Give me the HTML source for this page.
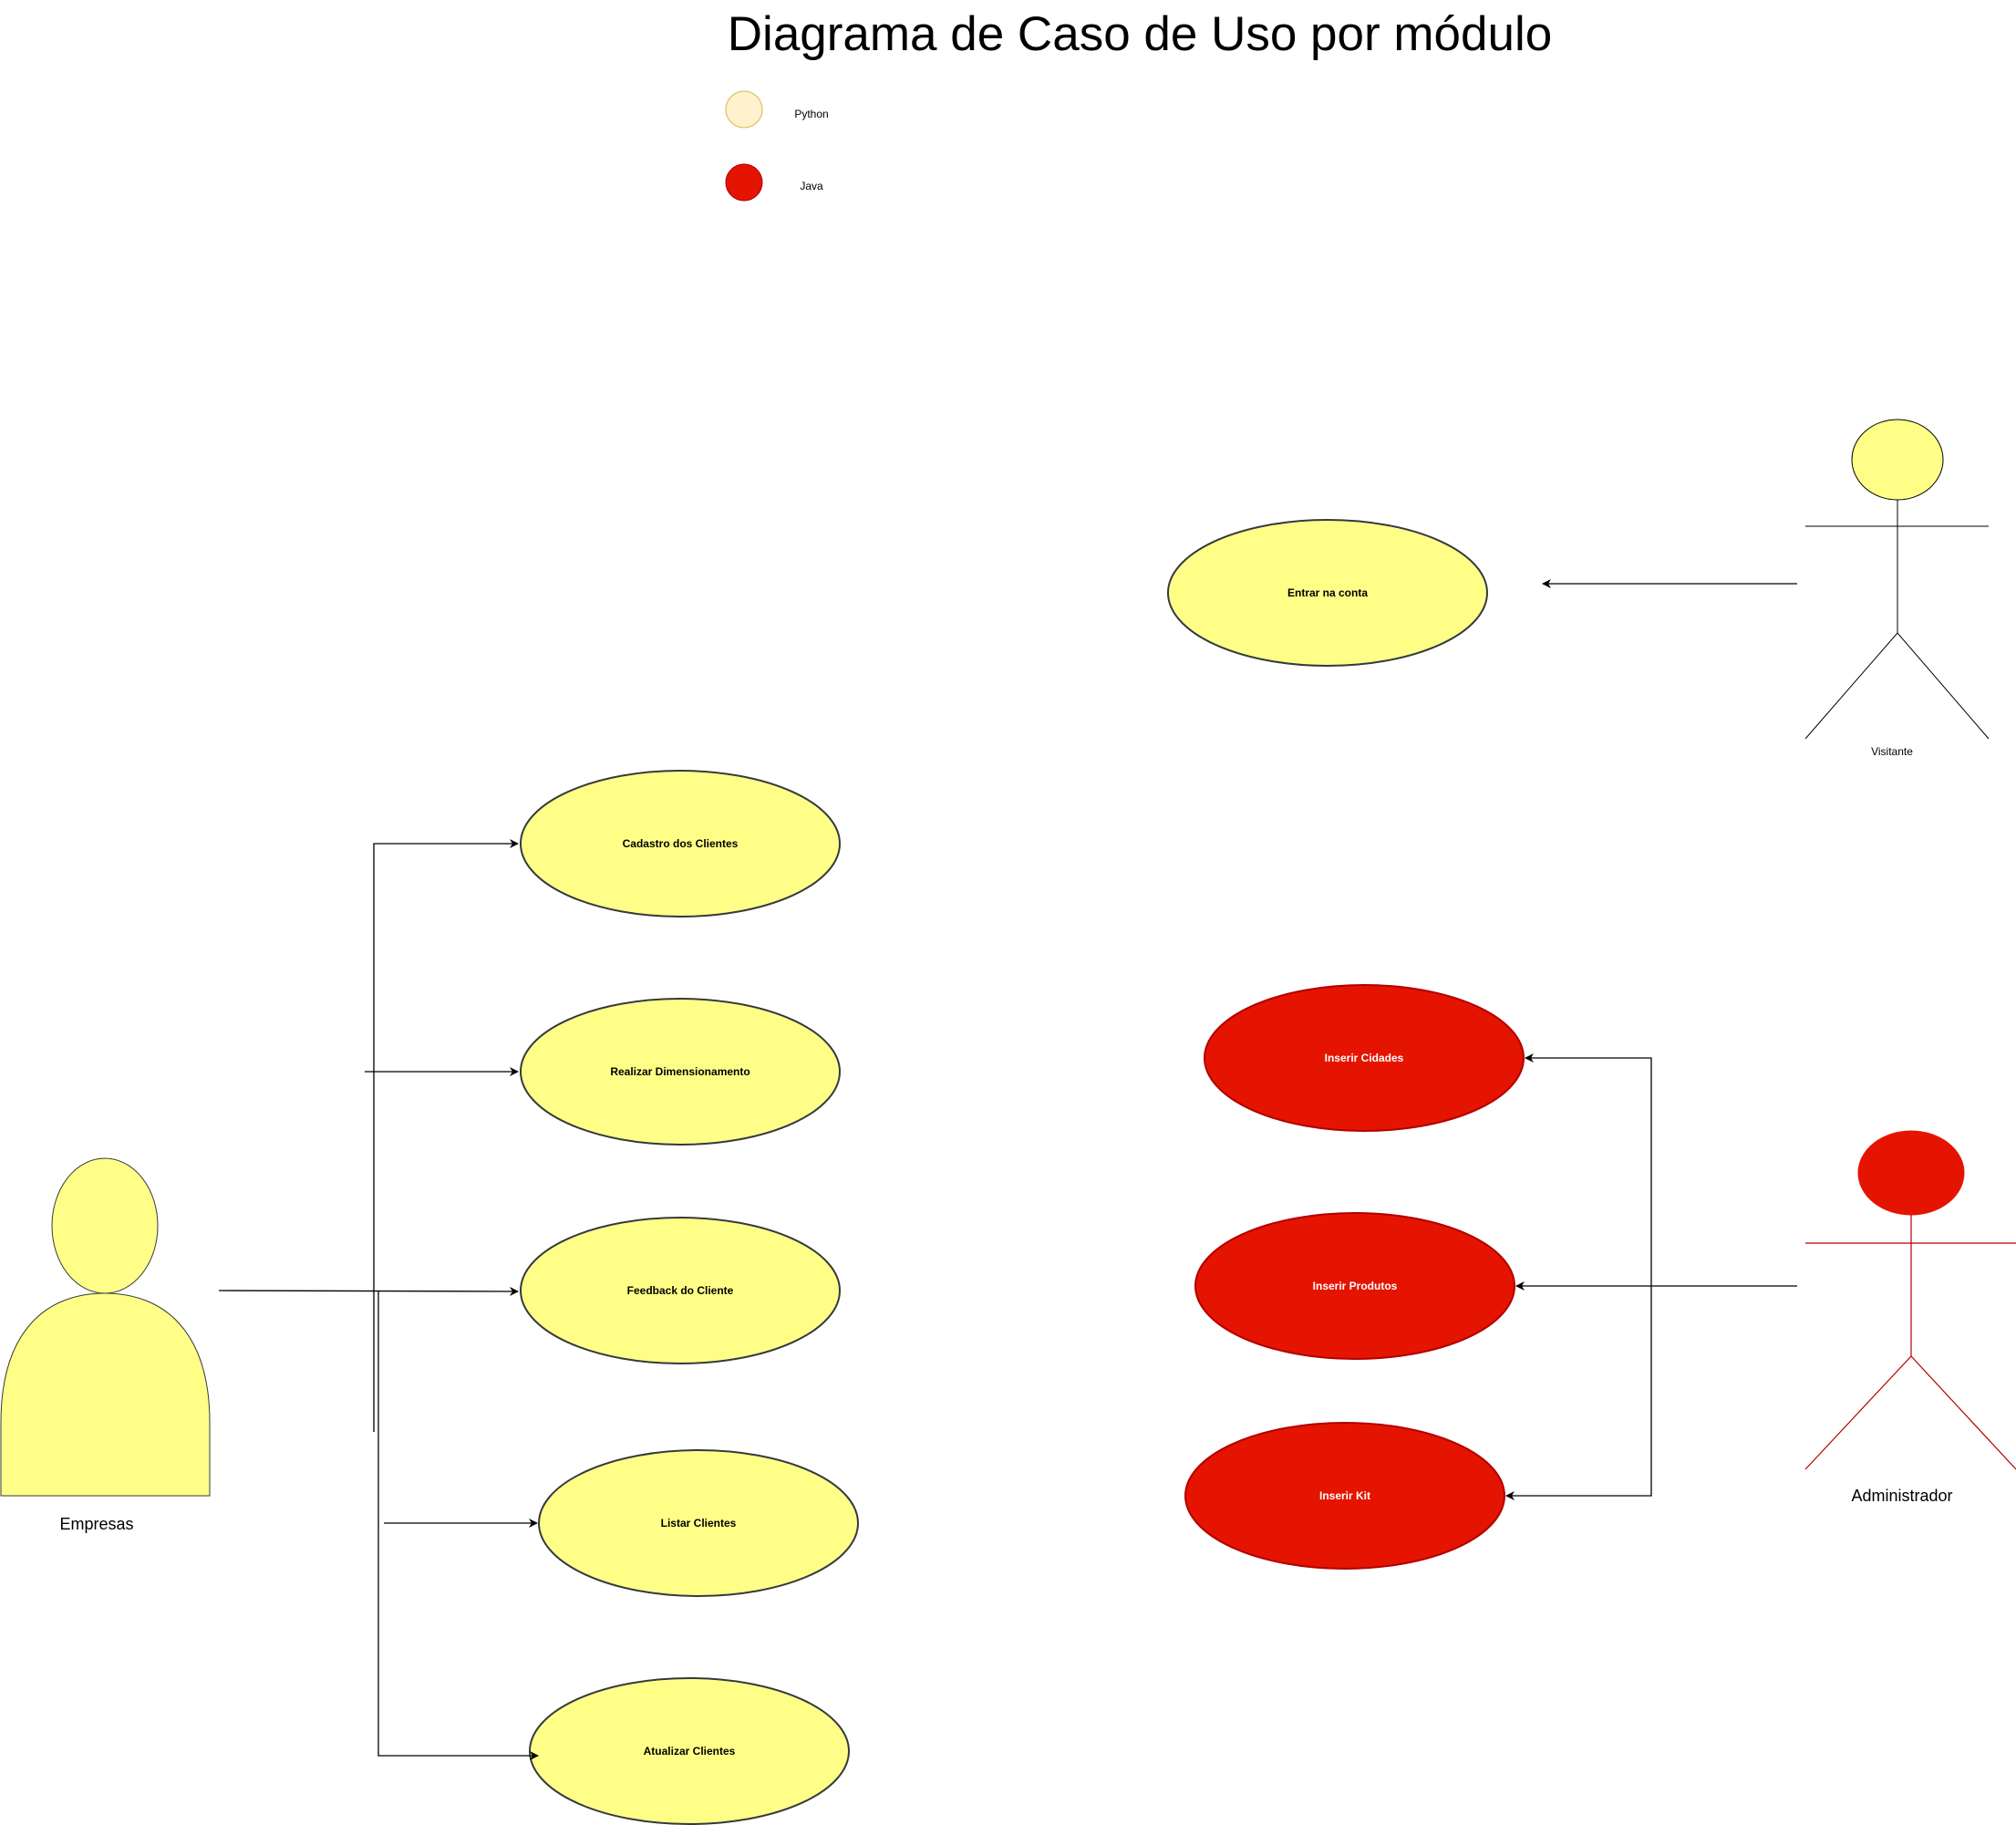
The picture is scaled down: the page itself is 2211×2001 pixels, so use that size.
<!DOCTYPE html>
<html><head><meta charset="utf-8"><style>
html,body{margin:0;padding:0;background:#fff;}
svg{display:block;}
text{font-family:"Liberation Sans",Arial,sans-serif;}
</style></head><body>
<svg width="2211" height="2001" viewBox="0 0 2211 2001" xmlns="http://www.w3.org/2000/svg">
<defs>
<marker id="a" viewBox="0 0 10 10" refX="9" refY="5" markerWidth="10" markerHeight="10" markerUnits="userSpaceOnUse" orient="auto">
<path d="M0,0 L10,5 L0,10 L3,5 Z" fill="#000"/></marker>
</defs>
<text x="1250" y="55" font-size="53" text-anchor="middle" fill="#000">Diagrama de Caso de Uso por módulo</text>
<circle cx="816" cy="120" r="20" fill="#fff2cc" stroke="#d6b656" stroke-width="1"/>
<text x="890" y="129" font-size="12" text-anchor="middle">Python</text>
<circle cx="816" cy="200" r="20" fill="#e51400" stroke="#b20000" stroke-width="1"/>
<text x="890" y="208" font-size="12" text-anchor="middle">Java</text>

<g fill="#ffff88" stroke="#36393d" stroke-width="2">
<ellipse cx="1456" cy="650" rx="175" ry="80"/>
<ellipse cx="746" cy="925" rx="175" ry="80"/>
<ellipse cx="746" cy="1175" rx="175" ry="80"/>
<ellipse cx="746" cy="1415" rx="175" ry="80"/>
<ellipse cx="766" cy="1670" rx="175" ry="80"/>
<ellipse cx="756" cy="1920" rx="175" ry="80"/>
</g>
<g font-size="12" font-weight="bold" text-anchor="middle" fill="#000">
<text x="1456" y="654">Entrar na conta</text>
<text x="746" y="929">Cadastro dos Clientes</text>
<text x="746" y="1179">Realizar Dimensionamento</text>
<text x="746" y="1419">Feedback do Cliente</text>
<text x="766" y="1674">Listar Clientes</text>
<text x="756" y="1924">Atualizar Clientes</text>
</g>
<g fill="#e51400" stroke="#b20000" stroke-width="2">
<ellipse cx="1496" cy="1160" rx="175" ry="80"/>
<ellipse cx="1486" cy="1410" rx="175" ry="80"/>
<ellipse cx="1475" cy="1640" rx="175" ry="80"/>
</g>
<g font-size="12" font-weight="bold" text-anchor="middle" fill="#fff">
<text x="1496" y="1164">Inserir Cidades</text>
<text x="1486" y="1414">Inserir Produtos</text>
<text x="1475" y="1644">Inserir Kit</text>
</g>

<!-- connectors left -->
<g stroke="#000" stroke-width="1.3" fill="none">
<polyline points="410,1570 410,925 568,925" marker-end="url(#a)"/>
<line x1="400" y1="1175" x2="568" y2="1175" marker-end="url(#a)"/>
<line x1="240" y1="1415" x2="568" y2="1416" marker-end="url(#a)"/>
<polyline points="415,1415 415,1925 590,1925" marker-end="url(#a)"/>
<line x1="421" y1="1670" x2="589" y2="1670" marker-end="url(#a)"/>
<line x1="1971" y1="640" x2="1692" y2="640" marker-end="url(#a)"/>
<line x1="1971" y1="1410" x2="1663" y2="1410" marker-end="url(#a)"/>
<polyline points="1811,1410 1811,1160 1673,1160" marker-end="url(#a)"/>
<polyline points="1811,1410 1811,1640 1652,1640" marker-end="url(#a)"/>
</g>

<!-- Empresas actor -->
<g fill="#ffff88" stroke="#36393d" stroke-width="1">
<path d="M1,1640 L1,1560 C1,1460 50,1418 115,1418 C180,1418 230,1460 230,1560 L230,1640 Z"/>
<ellipse cx="115" cy="1344" rx="58" ry="74"/>
</g>
<text x="106" y="1677" font-size="18" text-anchor="middle">Empresas</text>

<!-- Visitante -->
<ellipse cx="2081" cy="504" rx="50" ry="44" fill="#ffff88" stroke="#000" stroke-width="1"/>
<g stroke="#000" stroke-width="1" fill="none">
<line x1="1980" y1="577" x2="2181" y2="577"/>
<line x1="2081" y1="548" x2="2081" y2="694"/>
<polyline points="1980,810 2081,694 2181,810"/>
</g>
<text x="2075" y="828" font-size="12" text-anchor="middle">Visitante</text>

<!-- Administrador -->
<ellipse cx="2096" cy="1286" rx="58" ry="46" fill="#e51400" stroke="#e51400"/>
<g stroke="#b20000" stroke-width="1.2" fill="none">
<line x1="1980" y1="1363" x2="2211" y2="1363"/>
<line x1="2096" y1="1332" x2="2096" y2="1487"/>
<polyline points="1980,1611 2096,1487 2211,1611"/>
</g>
<text x="2086" y="1646" font-size="18" text-anchor="middle">Administrador</text>
</svg>
</body></html>
